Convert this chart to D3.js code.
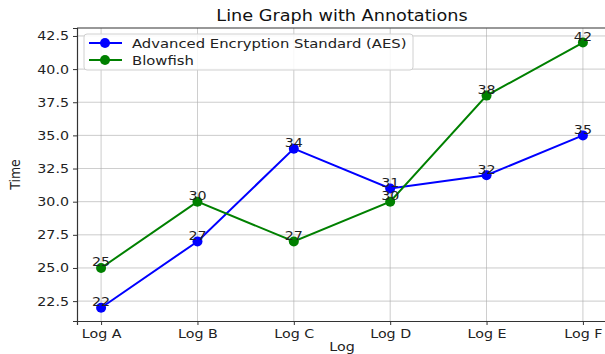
<!DOCTYPE html>
<html>
<head>
<meta charset="UTF-8" />
<script src="https://cdn.jsdelivr.net/npm/d3@7"></script>
<style>
  body { margin: 0; background: white; }
  svg { font-family: "DejaVu Sans", sans-serif; }
</style>
</head>
<body>
<div id="chart"></div>
<script>
const logs = ["Log A", "Log B", "Log C", "Log D", "Log E", "Log F"];
const aesTimes = [22, 27, 34, 31, 32, 35];
const blowfishTimes = [25, 30, 27, 30, 38, 42];
const yTicks = [22.5, 25.0, 27.5, 30.0, 32.5, 35.0, 37.5, 40.0, 42.5];

const series = [
  { name: "Advanced Encryption Standard (AES)", values: aesTimes, color: "#0000ff" },
  { name: "Blowfish", values: blowfishTimes, color: "#008000" }
];

const w = 605, h = 354;
const plotL = 77, plotR = 607, plotT = 28, plotB = 321;
const stretch = 1.14; // the reference text is a bit wider than it is tall

const svg = d3.select("#chart").append("svg")
  .attr("width", w).attr("height", h);

const x = d3.scaleLinear().domain([-0.25, logs.length - 0.75]).range([plotL, plotR]);
const y = d3.scaleLinear().domain([21, 43.1]).range([plotB, plotT]);

// grid
svg.append("g").selectAll("line").data(logs).enter().append("line")
  .attr("x1", (d, i) => x(i)).attr("x2", (d, i) => x(i))
  .attr("y1", plotT).attr("y2", plotB)
  .attr("stroke", "#b0b0b0").attr("stroke-width", 0.8).attr("opacity", 0.8);
svg.append("g").selectAll("line").data(yTicks).enter().append("line")
  .attr("x1", plotL).attr("x2", plotR)
  .attr("y1", d => y(d)).attr("y2", d => y(d))
  .attr("stroke", "#b0b0b0").attr("stroke-width", 0.8).attr("opacity", 0.8);

// axes
const xAxis = d3.axisBottom(x).tickValues(d3.range(logs.length))
  .tickFormat(i => logs[i]).tickSizeOuter(0).tickSize(4).tickPadding(4);
const yAxis = d3.axisLeft(y).tickValues(yTicks)
  .tickFormat(d3.format(".1f")).tickSizeOuter(0).tickSize(4).tickPadding(4);

const gx = svg.append("g").attr("transform", `translate(0,${plotB})`).call(xAxis);
const gy = svg.append("g").attr("transform", `translate(${plotL},0)`).call(yAxis);
[gx, gy].forEach(g => {
  g.selectAll("text").attr("font-size", 12.5).attr("fill", "#222")
    .attr("font-family", "DejaVu Sans, sans-serif");
  g.selectAll("line, path").attr("stroke", "#333");
});
gx.select(".domain").attr("stroke-width", 1.2);
gy.select(".domain").attr("stroke-width", 1.2);
svg.append("line").attr("x1", plotL).attr("x2", plotR).attr("y1", plotT).attr("y2", plotT)
  .attr("stroke", "#333").attr("stroke-width", 1.2);

// lines, markers, annotations
const line = d3.line().x((d, i) => x(i)).y(d => y(d));
series.forEach(s => {
  svg.append("path").datum(s.values).attr("d", line)
    .attr("fill", "none").attr("stroke", s.color).attr("stroke-width", 2);
  svg.append("g").selectAll("circle").data(s.values).enter().append("circle")
    .attr("cx", (d, i) => x(i)).attr("cy", d => y(d)).attr("r", 5)
    .attr("fill", s.color);
  svg.append("g").selectAll("text").data(s.values).enter().append("text")
    .attr("x", (d, i) => x(i)).attr("y", d => y(d) - 1.5)
    .attr("text-anchor", "middle").attr("font-size", 12.5).attr("fill", "#222")
    .text(d => d);
});

// title and labels
svg.append("text").attr("x", (plotL + plotR) / 2).attr("y", 21)
  .attr("text-anchor", "middle").attr("font-size", 15.5).attr("fill", "#111")
  .text("Line Graph with Annotations");
svg.append("text").attr("x", (plotL + plotR) / 2).attr("y", 351)
  .attr("text-anchor", "middle").attr("font-size", 12.5).attr("fill", "#222")
  .text("Log");

// legend
const lg = svg.append("g").attr("transform", "translate(84,34)");
lg.append("rect").attr("width", 329).attr("height", 36).attr("rx", 3)
  .attr("fill", "white").attr("fill-opacity", 0.85)
  .attr("stroke", "#d0d0d0").attr("stroke-width", 1);
series.forEach((s, i) => {
  const row = lg.append("g").attr("transform", `translate(0,${9 + i * 17})`);
  row.append("line").attr("x1", 5).attr("x2", 38).attr("stroke", s.color).attr("stroke-width", 2);
  row.append("circle").attr("cx", 21).attr("r", 5).attr("fill", s.color);
  row.append("text").attr("x", 48).attr("y", 4.5).attr("font-size", 13)
    .attr("fill", "#222").text(s.name);
});

// widen every horizontal text around its anchor point
svg.selectAll("text").each(function() {
  const t = d3.select(this);
  const tx = +t.attr("x") || 0, ty = +t.attr("y") || 0;
  t.attr("x", 0).attr("y", 0)
    .attr("transform", `translate(${tx},${ty}) scale(${stretch},1)`);
});

// y label (rotated, so the stretch goes across the glyphs)
svg.append("text").attr("transform", `translate(20,${(plotT + plotB) / 2}) rotate(-90) scale(1,${stretch})`)
  .attr("text-anchor", "middle").attr("font-size", 12.5).attr("fill", "#222")
  .text("Time");
</script>
</body>
</html>
